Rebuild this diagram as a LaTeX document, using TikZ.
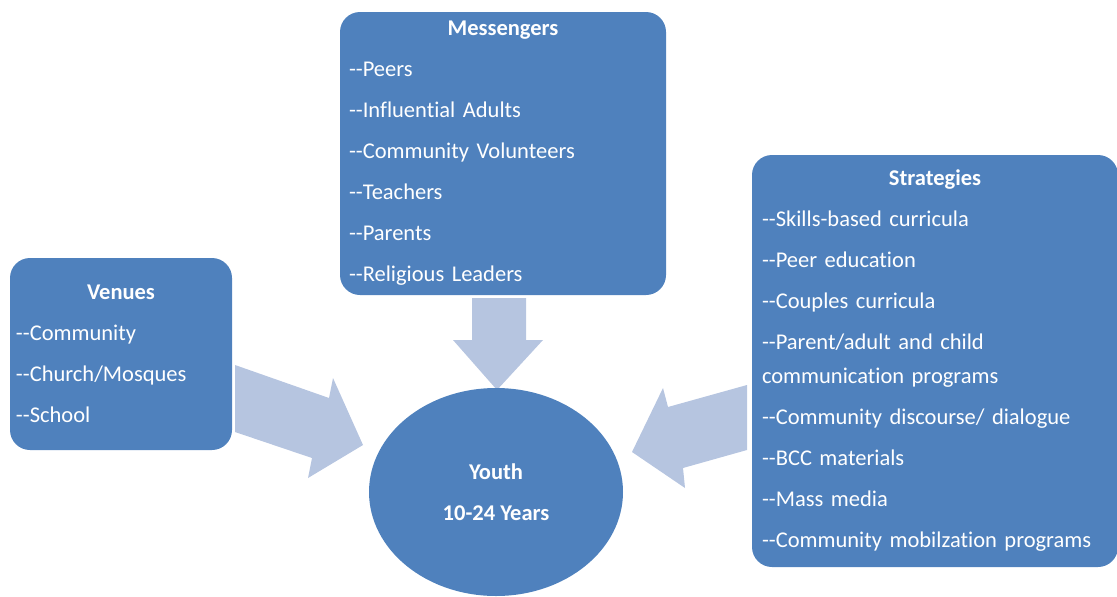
\documentclass[tikz,border=0pt]{standalone}
\usepackage{fontspec}
\setmainfont{Carlito}[Ligatures=NoCommon]
\usetikzlibrary{shapes.geometric}

\definecolor{boxblue}{RGB}{79,129,189}
\definecolor{arrowblue}{RGB}{182,197,224}
% two plain hyphens, no en dash ligature
\newcommand{\dd}{\mbox{-}\mbox{-}}

\begin{document}
\begin{tikzpicture}[x=1pt, y=-1pt,
  box/.style = {fill=boxblue, rounded corners=20pt, text=white, align=left, font=\fontsize{22.5}{34}\selectfont},
  bigarrow/.style = {fill=arrowblue},
  youthnode/.style = {ellipse, fill=boxblue, text=white, align=center, inner sep=0pt, font=\fontsize{22.5}{41}\selectfont\bfseries}]
\useasboundingbox (0,0) rectangle (1117,597);

% block arrows pointing at the youth
\fill[bigarrow] (235,365) -- (329,398) -- (333,378) -- (363,445) -- (308,478) -- (312,458) -- (235,432) -- cycle;
\fill[bigarrow] (472,298) -- (526,298) -- (526,340) -- (543,340) -- (497,390) -- (453,340) -- (472,340) -- cycle;
\fill[bigarrow] (747,385) -- (668,407) -- (663,388) -- (632,452) -- (685,488) -- (683,468) -- (747,450) -- cycle;

\node[box, minimum width=326pt, minimum height=283pt, inner xsep=9pt, text width=308pt] (messengers) at (503,153.5)
  {\hfill\textbf{Messengers}\hfill\null\\[7pt]
   \dd Peers\\[7pt]
   \dd Influential Adults\\[7pt]
   \dd Community Volunteers\\[7pt]
   \dd Teachers\\[7pt]
   \dd Parents\\[7pt]
   \dd Religious Leaders};

\node[box, minimum width=366pt, minimum height=412pt, inner xsep=10pt, text width=346pt] (strategies) at (935,361)
  {\hfill\textbf{Strategies}\hfill\null\\[7pt]
   \dd Skills-based curricula\\[7pt]
   \dd Peer education\\[7pt]
   \dd Couples curricula\\[7pt]
   \dd Parent/adult and child\\
   communication programs\\[7pt]
   \dd Community discourse/ dialogue\\[7pt]
   \dd BCC materials\\[7pt]
   \dd Mass media\\[7pt]
   \dd Community mobilzation programs};

\node[box, minimum width=222pt, minimum height=192pt, inner xsep=6pt, text width=210pt] (venues) at (121,354)
  {\hfill\textbf{Venues}\hfill\null\\[7pt]
   \dd Community\\[7pt]
   \dd Church/Mosques\\[7pt]
   \dd School};

\node[youthnode, minimum width=254pt, minimum height=208pt] (youth) at (496,492) {Youth\\10-24 Years};
\end{tikzpicture}
\end{document}
